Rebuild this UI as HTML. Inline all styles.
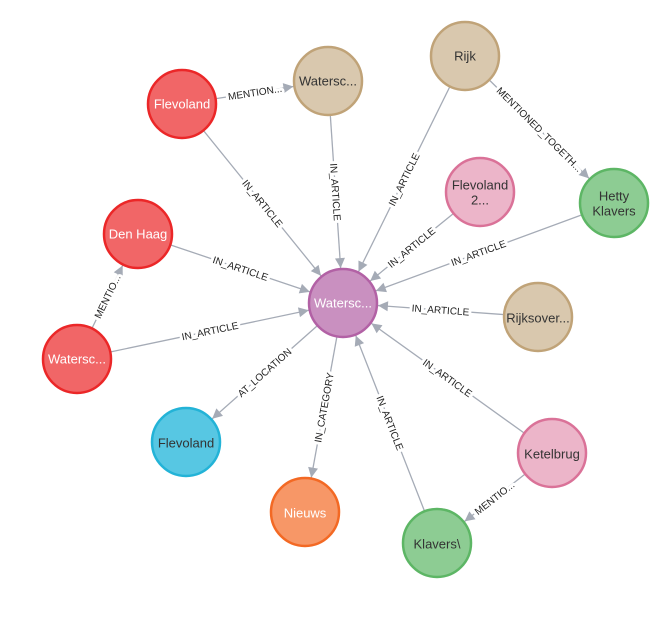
<!DOCTYPE html>
<html><head><meta charset="utf-8"><style>
html,body{margin:0;padding:0;background:#fff;}
svg{display:block;font-family:"Liberation Sans","DejaVu Sans",sans-serif;}
.e{stroke:#a5abb6;stroke-width:1.3;fill:none;}
.bg{font-size:10px;fill:#fff;stroke:#fff;stroke-width:6px;stroke-linejoin:round;}
.fg{font-size:10px;fill:#222;}
.n text{font-size:13px;text-anchor:middle;dominant-baseline:central;}
</style></head><body>
<svg width="657" height="618" viewBox="0 0 657 618">
<defs>
<marker id="a" markerUnits="userSpaceOnUse" markerWidth="60" markerHeight="12" refX="45" refY="0" orient="auto" overflow="visible" viewBox="0 -6 60 12">
<path d="M0,-5 L10,0 L0,5 Z" fill="#a5abb6"/>
</marker>
<path id="p1" d="M182,104 L328,81"/>
<path id="p2" d="M182,104 L343,303"/>
<path id="p3" d="M328,81 L343,303"/>
<path id="p4" d="M343,303 L465,56"/>
<path id="p5" d="M465,56 L614,203"/>
<path id="p6" d="M343,303 L480,192"/>
<path id="p7" d="M343,303 L614,203"/>
<path id="p8" d="M138,234 L343,303"/>
<path id="p9" d="M77,359 L343,303"/>
<path id="p10" d="M77,359 L138,234"/>
<path id="p11" d="M343,303 L538,317"/>
<path id="p12" d="M343,303 L552,453"/>
<path id="p13" d="M343,303 L437,543"/>
<path id="p14" d="M437,543 L552,453"/>
<path id="p15" d="M186,442 L343,303"/>
<path id="p16" d="M305,512 L343,303"/>
</defs>
<g class="e">
<line x1="182" y1="104" x2="328" y2="81" marker-end="url(#a)"/>
<line x1="182" y1="104" x2="343" y2="303" marker-end="url(#a)"/>
<line x1="328" y1="81" x2="343" y2="303" marker-end="url(#a)"/>
<line x1="465" y1="56" x2="343" y2="303" marker-end="url(#a)"/>
<line x1="465" y1="56" x2="614" y2="203" marker-end="url(#a)"/>
<line x1="480" y1="192" x2="343" y2="303" marker-end="url(#a)"/>
<line x1="614" y1="203" x2="343" y2="303" marker-end="url(#a)"/>
<line x1="138" y1="234" x2="343" y2="303" marker-end="url(#a)"/>
<line x1="77" y1="359" x2="343" y2="303" marker-end="url(#a)"/>
<line x1="77" y1="359" x2="138" y2="234" marker-end="url(#a)"/>
<line x1="538" y1="317" x2="343" y2="303" marker-end="url(#a)"/>
<line x1="552" y1="453" x2="343" y2="303" marker-end="url(#a)"/>
<line x1="437" y1="543" x2="343" y2="303" marker-end="url(#a)"/>
<line x1="552" y1="453" x2="437" y2="543" marker-end="url(#a)"/>
<line x1="343" y1="303" x2="186" y2="442" marker-end="url(#a)"/>
<line x1="343" y1="303" x2="305" y2="512" marker-end="url(#a)"/>
</g>
<g class="bg" text-anchor="middle">
<text dy="3.5"><textPath href="#p1" startOffset="50%">MENTION...</textPath></text>
<text dy="3.5"><textPath href="#p2" startOffset="50%">IN_ARTICLE</textPath></text>
<text dy="3.5"><textPath href="#p3" startOffset="50%">IN_ARTICLE</textPath></text>
<text dy="3.5"><textPath href="#p4" startOffset="50%">IN_ARTICLE</textPath></text>
<text dy="3.5"><textPath href="#p5" startOffset="50%">MENTIONED_TOGETH...</textPath></text>
<text dy="3.5"><textPath href="#p6" startOffset="50%">IN_ARTICLE</textPath></text>
<text dy="3.5"><textPath href="#p7" startOffset="50%">IN_ARTICLE</textPath></text>
<text dy="3.5"><textPath href="#p8" startOffset="50%">IN_ARTICLE</textPath></text>
<text dy="3.5"><textPath href="#p9" startOffset="50%">IN_ARTICLE</textPath></text>
<text dy="3.5"><textPath href="#p10" startOffset="50%">MENTIO...</textPath></text>
<text dy="3.5"><textPath href="#p11" startOffset="50%">IN_ARTICLE</textPath></text>
<text dy="3.5"><textPath href="#p12" startOffset="50%">IN_ARTICLE</textPath></text>
<text dy="3.5"><textPath href="#p13" startOffset="50%">IN_ARTICLE</textPath></text>
<text dy="3.5"><textPath href="#p14" startOffset="50%">MENTIO...</textPath></text>
<text dy="3.5"><textPath href="#p15" startOffset="50%">AT_LOCATION</textPath></text>
<text dy="3.5"><textPath href="#p16" startOffset="50%">IN_CATEGORY</textPath></text>
</g>
<g class="fg" text-anchor="middle">
<text dy="3.5"><textPath href="#p1" startOffset="50%">MENTION...</textPath></text>
<text dy="3.5"><textPath href="#p2" startOffset="50%">IN_ARTICLE</textPath></text>
<text dy="3.5"><textPath href="#p3" startOffset="50%">IN_ARTICLE</textPath></text>
<text dy="3.5"><textPath href="#p4" startOffset="50%">IN_ARTICLE</textPath></text>
<text dy="3.5"><textPath href="#p5" startOffset="50%">MENTIONED_TOGETH...</textPath></text>
<text dy="3.5"><textPath href="#p6" startOffset="50%">IN_ARTICLE</textPath></text>
<text dy="3.5"><textPath href="#p7" startOffset="50%">IN_ARTICLE</textPath></text>
<text dy="3.5"><textPath href="#p8" startOffset="50%">IN_ARTICLE</textPath></text>
<text dy="3.5"><textPath href="#p9" startOffset="50%">IN_ARTICLE</textPath></text>
<text dy="3.5"><textPath href="#p10" startOffset="50%">MENTIO...</textPath></text>
<text dy="3.5"><textPath href="#p11" startOffset="50%">IN_ARTICLE</textPath></text>
<text dy="3.5"><textPath href="#p12" startOffset="50%">IN_ARTICLE</textPath></text>
<text dy="3.5"><textPath href="#p13" startOffset="50%">IN_ARTICLE</textPath></text>
<text dy="3.5"><textPath href="#p14" startOffset="50%">MENTIO...</textPath></text>
<text dy="3.5"><textPath href="#p15" startOffset="50%">AT_LOCATION</textPath></text>
<text dy="3.5"><textPath href="#p16" startOffset="50%">IN_CATEGORY</textPath></text>
</g>
<g class="n" stroke-width="2.5">
<g><circle cx="343" cy="303" r="34" fill="#c990c0" stroke="#b261a5"/><text x="343" y="303" fill="#fff" stroke="none">Watersc...</text></g>
<g><circle cx="182" cy="104" r="34" fill="#f16667" stroke="#eb2728"/><text x="182" y="104" fill="#fff" stroke="none">Flevoland</text></g>
<g><circle cx="328" cy="81" r="34" fill="#d9c8ae" stroke="#c0a378"/><text x="328" y="81" fill="#333" stroke="none">Watersc...</text></g>
<g><circle cx="465" cy="56" r="34" fill="#d9c8ae" stroke="#c0a378"/><text x="465" y="56" fill="#333" stroke="none">Rijk</text></g>
<g><circle cx="480" cy="192" r="34" fill="#ecb5c9" stroke="#da7298"/><text x="480" y="185" fill="#333" stroke="none">Flevoland</text><text x="480" y="200" fill="#333" stroke="none">2...</text></g>
<g><circle cx="614" cy="203" r="34" fill="#8dcc93" stroke="#5db665"/><text x="614" y="196" fill="#333" stroke="none">Hetty</text><text x="614" y="211" fill="#333" stroke="none">Klavers</text></g>
<g><circle cx="138" cy="234" r="34" fill="#f16667" stroke="#eb2728"/><text x="138" y="234" fill="#fff" stroke="none">Den Haag</text></g>
<g><circle cx="77" cy="359" r="34" fill="#f16667" stroke="#eb2728"/><text x="77" y="359" fill="#fff" stroke="none">Watersc...</text></g>
<g><circle cx="538" cy="317" r="34" fill="#d9c8ae" stroke="#c0a378"/><text x="538" y="318" fill="#333" stroke="none">Rijksover...</text></g>
<g><circle cx="552" cy="453" r="34" fill="#ecb5c9" stroke="#da7298"/><text x="552" y="454" fill="#333" stroke="none">Ketelbrug</text></g>
<g><circle cx="437" cy="543" r="34" fill="#8dcc93" stroke="#5db665"/><text x="437" y="544" fill="#333" stroke="none">Klavers\</text></g>
<g><circle cx="186" cy="442" r="34" fill="#57c7e3" stroke="#23b3d7"/><text x="186" y="443" fill="#333" stroke="none">Flevoland</text></g>
<g><circle cx="305" cy="512" r="34" fill="#f79767" stroke="#f36924"/><text x="305" y="513" fill="#fff" stroke="none">Nieuws</text></g>
</g>
</svg>
</body></html>
